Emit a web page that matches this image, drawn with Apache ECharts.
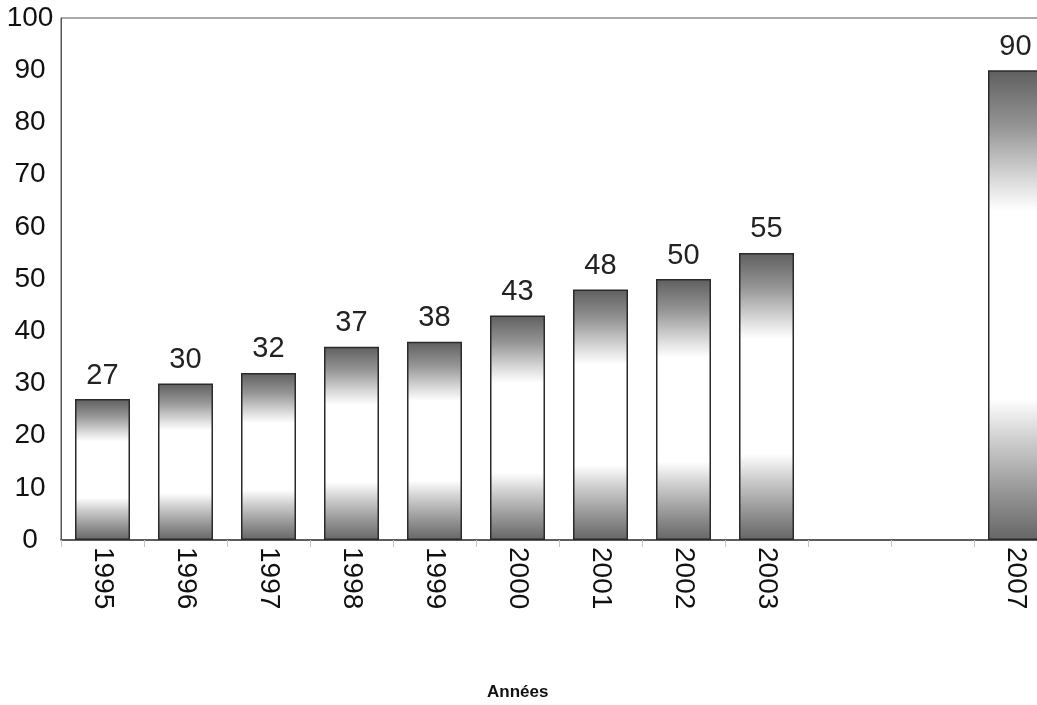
<!DOCTYPE html>
<html>
<head>
<meta charset="utf-8">
<title>Années</title>
<script src="https://cdn.jsdelivr.net/npm/echarts@6/dist/echarts.min.js"></script>
<style>
  html, body { margin: 0; padding: 0; background: #ffffff; overflow: hidden; }
  /* the plot runs past the right edge of the page, so the last bar is clipped */
  #chart { width: 1064px; height: 705px; }
</style>
</head>
<body>
<div id="chart"></div>
<script>
// Years on the horizontal axis (two empty slots between 2003 and 2007)
const years = ['1995', '1996', '1997', '1998', '1999', '2000', '2001', '2002', '2003', '', '', '2007'];
// Value for each year
const values = [27, 30, 32, 37, 38, 43, 48, 50, 55, null, null, 90];
// Vertical axis scale
const yMin = 0;
const yMax = 100;
const yStep = 10;

const FONT = '"Liberation Sans", Arial, sans-serif';

// Dark at top and bottom, white in the middle
const barFill = new echarts.graphic.LinearGradient(0, 0, 0, 1, [
  { offset: 0, color: '#5f5f5f' },
  { offset: 0.12, color: '#959595' },
  { offset: 0.24, color: '#dedede' },
  { offset: 0.3, color: '#ffffff' },
  { offset: 0.7, color: '#ffffff' },
  { offset: 0.78, color: '#d2d2d2' },
  { offset: 0.9, color: '#959595' },
  { offset: 1, color: '#666666' }
]);

const chart = echarts.init(document.getElementById('chart'), null, { renderer: 'canvas' });

chart.setOption({
  animation: false,
  backgroundColor: '#ffffff',
  graphic: [{
    type: 'text',
    left: 487,
    top: 684,
    style: {
      text: 'Années',
      font: 'bold 17px ' + FONT,
      fill: '#111'
    }
  }],
  grid: {
    left: 61,
    top: 18,
    width: 996,
    height: 522,
    show: true,
    borderColor: '#555',
    borderWidth: 1,
    backgroundColor: 'transparent'
  },
  xAxis: {
    type: 'category',
    data: years,
    boundaryGap: true,
    axisLine: { show: true, lineStyle: { color: '#444', width: 1.5 } },
    axisTick: { show: true, length: 7, lineStyle: { color: '#c4c4c4' } },
    axisLabel: {
      interval: 0,
      rotate: -90,
      margin: 7,
      fontFamily: FONT,
      fontSize: 28,
      color: '#111'
    },
    splitLine: { show: false }
  },
  yAxis: {
    type: 'value',
    min: yMin,
    max: yMax,
    interval: yStep,
    axisLine: { show: true, lineStyle: { color: '#555', width: 1 } },
    axisTick: { show: false },
    splitLine: { show: false },
    axisLabel: {
      align: 'center',
      margin: 31,
      padding: [0, 0, 10, 0],
      fontFamily: FONT,
      fontSize: 28,
      color: '#111'
    }
  },
  series: [{
    type: 'bar',
    data: values,
    barWidth: 55,
    itemStyle: {
      color: barFill,
      borderColor: '#2a2a2a',
      borderWidth: 1.5
    },
    label: {
      show: true,
      position: 'top',
      distance: 9,
      fontFamily: FONT,
      fontSize: 29,
      color: '#222'
    }
  }]
});
</script>
</body>
</html>
